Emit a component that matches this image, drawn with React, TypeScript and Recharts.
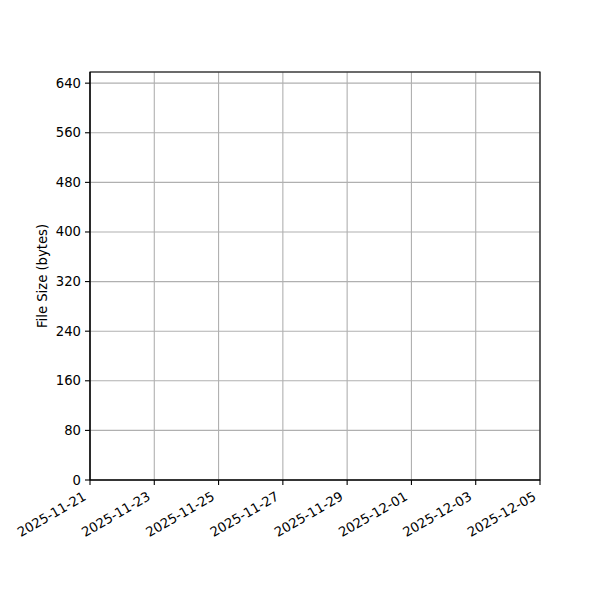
import { LineChart, Line, XAxis, YAxis, CartesianGrid, ReferenceArea } from 'recharts'

// dates on the x axis (every other day) and file size ticks on the y axis
const tickDates = ['2025-11-21', '2025-11-23', '2025-11-25', '2025-11-27', '2025-11-29', '2025-12-01', '2025-12-03', '2025-12-05']
const sizeTicks = [0, 80, 160, 240, 320, 400, 480, 560, 640]
const sizeMax = 658

// recorded file sizes: the chart has none
const recordDates: string[] = []
const fileSizes: number[] = []

const toTime = (d: string) => Date.parse(d + 'T00:00:00Z')
const xTicks = tickDates.map(toTime)
const xStart = xTicks[0]
const xEnd = xTicks[xTicks.length - 1]

const data = recordDates.map((d, i) => ({ time: toTime(d), size: fileSizes[i] }))

const font = "'DejaVu Sans', sans-serif"
const fs = 13.2

const fmt = (t: number) => new Date(t).toISOString().slice(0, 10)

function DateTick(props: any) {
  const { x, payload } = props
  const ax = x - 3
  const ay = 499
  return (
    <text x={ax} y={ay} transform={`rotate(-30 ${ax} ${ay})`} textAnchor="end" fontFamily={font} fontSize={fs} fill="#000">
      {fmt(payload.value)}
    </text>
  )
}

function SizeTick(props: any) {
  const { y, payload } = props
  return (
    <text x={81} y={y} textAnchor="end" dominantBaseline="central" fontFamily={font} fontSize={fs} fill="#000">
      {payload.value}
    </text>
  )
}

export default function App() {
  return (
    <div style={{ position: 'absolute', left: 0, top: 0, width: 600, height: 600, background: '#fff' }}>
      <LineChart width={600} height={600} data={data} margin={{ top: 72, right: 60, bottom: 0, left: 30 }}>
        <CartesianGrid stroke="#b0b0b0" strokeWidth={1.1} />
        <XAxis
          dataKey="time"
          type="number"
          scale="time"
          domain={[xStart, xEnd]}
          ticks={xTicks}
          interval={0}
          allowDataOverflow
          height={120}
          tickSize={5}
          tick={<DateTick />}
          axisLine={{ stroke: '#000', strokeWidth: 1.1 }}
          tickLine={{ stroke: '#000', strokeWidth: 1.1 }}
        />
        <YAxis
          type="number"
          domain={[0, sizeMax]}
          ticks={sizeTicks}
          interval={0}
          allowDataOverflow
          width={60}
          tickSize={5}
          tick={<SizeTick />}
          axisLine={{ stroke: '#000', strokeWidth: 1.1 }}
          tickLine={{ stroke: '#000', strokeWidth: 1.1 }}
          label={{
            content: () => (
              <text x={42} y={276} transform="rotate(-90 42 276)" textAnchor="middle" dominantBaseline="central" fontFamily={font} fontSize={fs} fill="#000">
                File Size (bytes)
              </text>
            ),
          }}
        />
        <ReferenceArea x1={xStart} x2={xEnd} y1={0} y2={sizeMax} fill="none" stroke="#000" strokeWidth={1.1} ifOverflow="visible" />
        <Line dataKey="size" stroke="#1f77b4" strokeWidth={2} dot={false} isAnimationActive={false} />
      </LineChart>
    </div>
  )
}
